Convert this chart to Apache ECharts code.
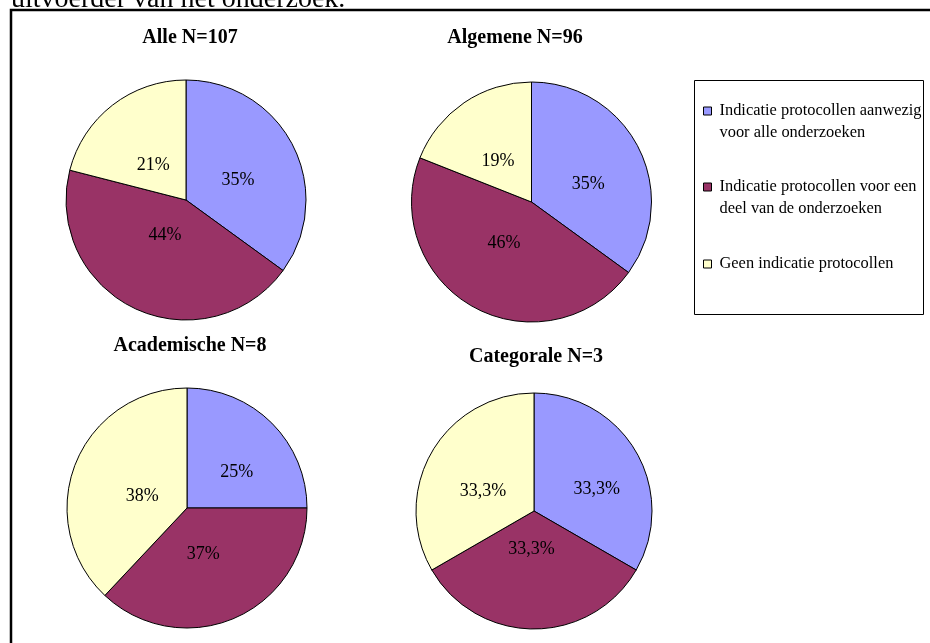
<!DOCTYPE html>
<html>
<head>
<meta charset="utf-8">
<script src="https://cdn.jsdelivr.net/npm/echarts@6/dist/echarts.min.js"></script>
<style>
  html, body { margin: 0; padding: 0; background: #ffffff; }
  #chart { width: 930px; height: 643px; }
</style>
</head>
<body>
<div id="chart"></div>
<script>
// Categories shared by all four pies (also the legend entries)
const categories = [
  'Indicatie protocollen aanwezig voor alle onderzoeken',
  'Indicatie protocollen voor een deel van de onderzoeken',
  'Geen indicatie protocollen'
];
const legendLines = [
  ['Indicatie protocollen aanwezig', 'voor alle onderzoeken'],
  ['Indicatie protocollen voor een', 'deel van de onderzoeken'],
  ['Geen indicatie protocollen']
];
const groupTitles = ['Alle N=107', 'Algemene N=96', 'Academische N=8', 'Categorale N=3'];

// Share per category, in percent
const alleValues = [35, 44, 21];
const algemeneValues = [35, 46, 19];
const academischeValues = [25, 37, 38];
const categoraleValues = [33.3, 33.3, 33.3];

const headingText = 'uitvoerder van het onderzoek.';

const groupValues = [alleValues, algemeneValues, academischeValues, categoraleValues];
const sliceColors = ['#9999FF', '#993366', '#FFFFCC'];
const SERIF = '"Liberation Serif", "Times New Roman", serif';

// Placement of each pie: centre, radius, title anchor, and where each inside
// label sits: fraction of the radius (reach) and turn from the slice bisector (deg).
const layouts = [
  { center: [186, 200], radius: 120, titleX: 190, titleTop: 28, reach: [0.47, 0.33, 0.41], turn: [4, 7, -4] },
  { center: [531.5, 202], radius: 120, titleX: 515, titleTop: 28, reach: [0.50, 0.40, 0.45], turn: [8, 6, -4] },
  { center: [187, 508], radius: 120, titleX: 190, titleTop: 336, reach: [0.52, 0.39, 0.39], turn: [8, 3, -5] },
  { center: [534, 511], radius: 118, titleX: 536, titleTop: 347, reach: [0.57, 0.31, 0.47], turn: [9, 4, -7] }
];
// small downward nudge so the digits sit on the measured spot
const LABEL_DROP = 2;

const fmtPct = v => String(v).replace('.', ',') + '%';

const series = groupValues.map((vals, g) => ({
  type: 'pie',
  name: groupTitles[g],
  center: layouts[g].center,
  radius: layouts[g].radius,
  startAngle: 90,
  clockwise: true,
  avoidLabelOverlap: false,
  animation: false,
  silent: true,
  itemStyle: { borderColor: '#000000', borderWidth: 1 },
  label: {
    show: true,
    position: 'inside',
    formatter: p => fmtPct(p.value),
    fontFamily: SERIF,
    fontSize: 18,
    color: '#000000'
  },
  labelLine: { show: false },
  labelLayout: function (params) {
    const lay = layouts[g];
    const r = params.labelRect;
    const lx = r.x + r.width / 2, ly = r.y + r.height / 2;
    const cx = lay.center[0], cy = lay.center[1];
    const mid = Math.atan2(lx - cx, -(ly - cy));
    const a = mid + lay.turn[params.dataIndex] * Math.PI / 180;
    const d = lay.radius * lay.reach[params.dataIndex];
    return { dx: cx + d * Math.sin(a) - lx, dy: cy - d * Math.cos(a) - ly + LABEL_DROP };
  },
  data: vals.map((v, i) => ({ name: categories[i], value: v, itemStyle: { color: sliceColors[i] } }))
}));

const titles = groupTitles.map((t, g) => ({
  text: t,
  left: layouts[g].titleX,
  top: layouts[g].titleTop,
  textAlign: 'center',
  padding: 0,
  textStyle: { fontFamily: SERIF, fontSize: 20, fontWeight: 'bold', color: '#000000' }
}));

// One legend block per entry; a blank leading line keeps the marker level
// with the first line of a two-line entry.
const legendTops = [78, 154, 253];
const legends = legendLines.map((lines, i) => ({
  data: [categories[i]],
  orient: 'vertical',
  left: 703,
  top: legendTops[i],
  padding: 0,
  icon: 'rect',
  itemWidth: 8,
  itemHeight: 8,
  selectedMode: false,
  itemStyle: { borderColor: '#000000', borderWidth: 1 },
  formatter: () => (lines.length > 1 ? ' \n' : '') + lines.join('\n'),
  textStyle: {
    fontFamily: SERIF,
    fontSize: 16.4,
    lineHeight: 22,
    color: '#000000',
    padding: [0, 0, 0, 3]
  }
}));

const chart = echarts.init(document.getElementById('chart'), null, { renderer: 'canvas' });
chart.setOption({
  backgroundColor: '#ffffff',
  animation: false,
  title: titles,
  legend: legends,
  graphic: [
    {
      type: 'text',
      left: 11,
      top: -14,
      silent: true,
      style: { text: headingText, font: '28px ' + SERIF, fill: '#000000' }
    },
    {
      type: 'rect',
      silent: true,
      shape: { x: 11, y: 10, width: 940, height: 660 },
      style: { fill: 'none', stroke: '#000000', lineWidth: 2.5 }
    },
    {
      type: 'rect',
      silent: true,
      shape: { x: 694.5, y: 80.5, width: 229, height: 234 },
      style: { fill: 'none', stroke: '#000000', lineWidth: 1 }
    }
  ],
  series: series
});
</script>
</body>
</html>
